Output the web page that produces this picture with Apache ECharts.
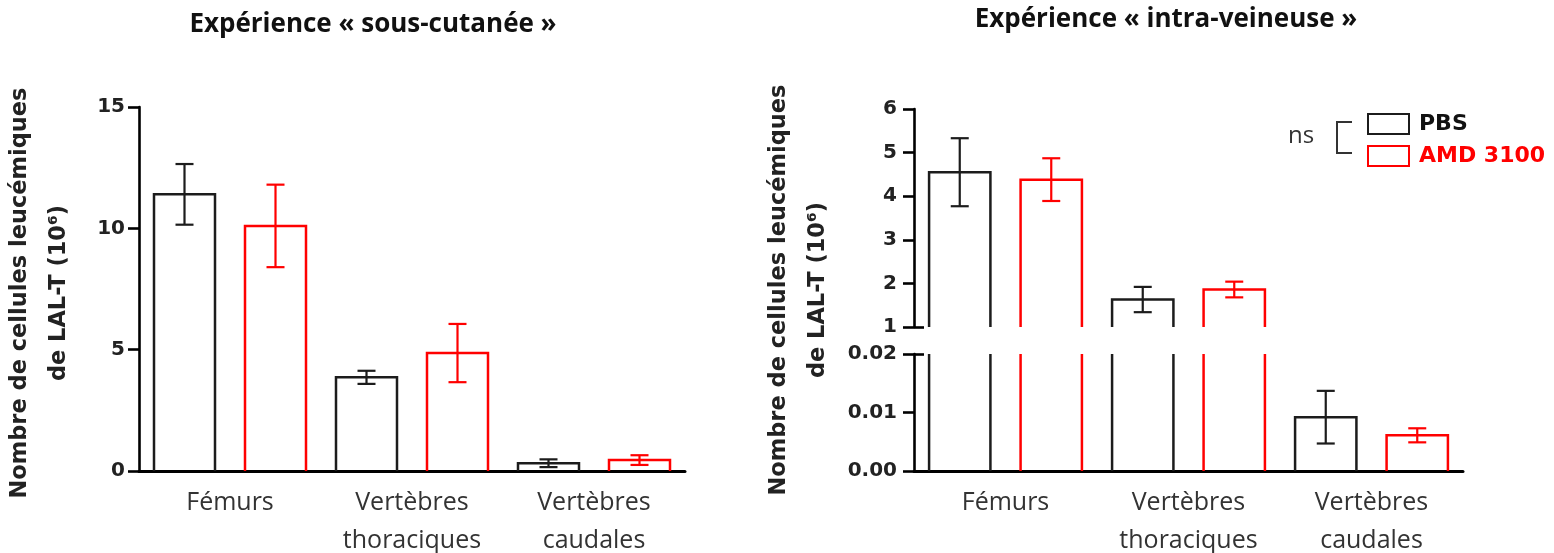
<!DOCTYPE html>
<html><head><meta charset="utf-8">
<script src="https://cdn.jsdelivr.net/npm/echarts@6/dist/echarts.min.js"></script>
<style>html,body{margin:0;padding:0;background:#fff}#c{width:1554px;height:553px}</style>
</head><body><div id="c"></div>
<script>
// ---- data ----
const categories = ['Fémurs', 'Vertèbres\nthoraciques', 'Vertèbres\ncaudales'];
const seriesNames = ['PBS', 'AMD 3100'];
const titles = ['Expérience « sous-cutanée »', 'Expérience « intra-veineuse »'];
const yName = 'Nombre de cellules leucémiques\nde LAL-T (10⁶)';
const sigLabel = 'ns';

const scPBS = [11.4, 3.86, 0.32];
const scPBSErr = [1.25, 0.27, 0.16];
const scAMD = [10.1, 4.86, 0.45];
const scAMDErr = [1.7, 1.2, 0.2];

const ivPBS = [4.55, 1.63, 0.0092];
const ivPBSErr = [0.78, 0.29, 0.0045];
const ivAMD = [4.38, 1.86, 0.0061];
const ivAMDErr = [0.49, 0.18, 0.0012];

const scTicks = [0, 5, 10, 15];
const ivTopTicks = [1, 2, 3, 4, 5, 6];
const ivBottomTicks = [0, 0.01, 0.02];

// ---- styles ----
const BLACK = '#1c1c1c';
const RED = '#ff0000';
const BAR_FRAC = 61 / 182;
const OFFSET_FRAC = 0.25;
const CAP = 9;

function rows(vals, errs) { return vals.map((v, i) => [i, v, errs[i]]); }

function makeRender(side, color) {
  return function (params, api) {
    const cat = api.value(0), val = api.value(1), err = api.value(2);
    const cs = params.coordSys;
    const band = api.size([1, 0])[0];
    const barW = band * BAR_FRAC;
    const cx = api.coord([cat, 0])[0] + side * band * OFFSET_FRAC;
    const x0 = cx - barW / 2, x1 = cx + barW / 2;
    const yb = cs.y + cs.height, yt = cs.y;
    const yv = api.coord([cat, val])[1];
    const bs = { stroke: color, lineWidth: 2.5, fill: 'none' };
    const children = [];
    if (yv < yb) {
      if (yv >= yt) {
        children.push({ type: 'polyline', shape: { points: [[x0, yb], [x0, yv], [x1, yv], [x1, yb]] }, style: bs });
      } else {
        children.push({ type: 'line', shape: { x1: x0, y1: yb, x2: x0, y2: yt }, style: bs });
        children.push({ type: 'line', shape: { x1: x1, y1: yb, x2: x1, y2: yt }, style: bs });
      }
    }
    if (yv >= yt && yv <= yb) {
      const yHi = api.coord([cat, val + err])[1];
      const yLo = api.coord([cat, val - err])[1];
      const es = { stroke: color, lineWidth: 2.2 };
      children.push({ type: 'line', shape: { x1: cx, y1: yLo, x2: cx, y2: yHi }, style: es });
      children.push({ type: 'line', shape: { x1: cx - CAP, y1: yHi, x2: cx + CAP, y2: yHi }, style: es });
      children.push({ type: 'line', shape: { x1: cx - CAP, y1: yLo, x2: cx + CAP, y2: yLo }, style: es });
    }
    return { type: 'group', children };
  };
}

function custom(name, xi, yi, data, side, color) {
  return { type: 'custom', name, xAxisIndex: xi, yAxisIndex: yi, data, clip: true,
    encode: { x: 0, y: 1 }, renderItem: makeRender(side, color), z: 3, silent: true };
}

const catLabel = { fontFamily: 'Open Sans', fontSize: 25, lineHeight: 38, color: '#333', margin: 13, interval: 0 };
const valLabel = { fontFamily: 'DejaVu Sans', fontWeight: 'bold', fontSize: 20, color: '#222' };

function xCat(grid, show) {
  return { type: 'category', gridIndex: grid, data: categories, show,
    axisLine: { show, lineStyle: { color: '#000', width: 3 } },
    axisTick: { show: false }, axisLabel: catLabel, splitLine: { show: false } };
}
function yVal(grid, ticks, fmt, margin) {
  return { type: 'value', gridIndex: grid, position: 'left',
    min: ticks[0], max: ticks[ticks.length - 1], interval: ticks[1] - ticks[0],
    axisLine: { show: true, lineStyle: { color: '#000', width: 2.6 } },
    axisTick: { show: true, length: 11, lineStyle: { color: '#000', width: 2.6 } },
    axisLabel: Object.assign({ margin, formatter: fmt }, valLabel),
    splitLine: { show: false } };
}
function yBreak(grid, ticks, at) {
  return { type: 'value', gridIndex: grid, position: 'left',
    min: ticks[0], max: ticks[ticks.length - 1], interval: ticks[1] - ticks[0],
    axisLine: { show: false }, axisLabel: { show: false }, splitLine: { show: false },
    axisTick: { show: true, inside: true, length: 10, customValues: [at], lineStyle: { color: '#000', width: 2.6 } } };
}

const chart = echarts.init(document.getElementById('c'), null, { renderer: 'canvas' });
const nameStyle = { fontFamily: 'DejaVu Sans', fontWeight: 'bold', fontSize: 22.5, lineHeight: 39, fill: '#222' };
const titleStyle = { fontFamily: 'Open Sans', fontWeight: 'bold', fontSize: 26, color: '#111' };

chart.setOption({
  animation: false,
  backgroundColor: '#fff',
  title: [
    { text: titles[0], left: 373, top: 12, textAlign: 'center', padding: 0, textStyle: titleStyle },
    { text: titles[1], left: 1166, top: 7, textAlign: 'center', padding: 0, textStyle: titleStyle }
  ],
  legend: {
    orient: 'vertical', left: 1367, top: 113, padding: 0, itemWidth: 41, itemHeight: 20, itemGap: 10,
    selectedMode: false, icon: 'rect',
    textStyle: { fontFamily: 'DejaVu Sans', fontWeight: 'bold', fontSize: 22, lineHeight: 20, padding: [0, 0, 0, 5] },
    data: [
      { name: seriesNames[0], icon: 'rect', itemStyle: { color: '#fff', borderColor: BLACK, borderWidth: 2 }, textStyle: { color: '#111' } },
      { name: seriesNames[1], icon: 'rect', itemStyle: { color: '#fff', borderColor: RED, borderWidth: 2 }, textStyle: { color: RED } }
    ]
  },
  grid: [
    { left: 139, top: 107, width: 546, height: 364, outerBoundsMode: 'none', containLabel: false },
    { left: 914, top: 109, width: 549, height: 218, outerBoundsMode: 'none', containLabel: false },
    { left: 914, top: 354, width: 549, height: 117, outerBoundsMode: 'none', containLabel: false }
  ],
  xAxis: [xCat(0, true), xCat(1, false), xCat(2, true)],
  yAxis: [
    yVal(0, scTicks, v => String(v), 14),
    yVal(1, ivTopTicks, v => String(v), 17),
    yVal(2, ivBottomTicks, v => v.toFixed(2), 17),
    yBreak(1, ivTopTicks, ivTopTicks[0]),
    yBreak(2, ivBottomTicks, ivBottomTicks[ivBottomTicks.length - 1])
  ],
  series: [
    custom(seriesNames[0], 0, 0, rows(scPBS, scPBSErr), -1, BLACK),
    custom(seriesNames[1], 0, 0, rows(scAMD, scAMDErr), 1, RED),
    custom(seriesNames[0], 1, 1, rows(ivPBS, ivPBSErr), -1, BLACK),
    custom(seriesNames[1], 1, 1, rows(ivAMD, ivAMDErr), 1, RED),
    custom(seriesNames[0], 2, 2, rows(ivPBS, ivPBSErr), -1, BLACK),
    custom(seriesNames[1], 2, 2, rows(ivAMD, ivAMDErr), 1, RED)
  ],
  graphic: [
    { type: 'text', x: 40, y: 293, rotation: Math.PI / 2,
      style: Object.assign({ text: yName, align: 'center', verticalAlign: 'middle', textAlign: 'center', textVerticalAlign: 'middle' }, nameStyle) },
    { type: 'text', x: 799, y: 290, rotation: Math.PI / 2,
      style: Object.assign({ text: yName, align: 'center', verticalAlign: 'middle', textAlign: 'center', textVerticalAlign: 'middle' }, nameStyle) },
    { type: 'text', x: 1301, y: 136,
      style: { text: sigLabel, fontFamily: 'Open Sans', fontSize: 24, fill: '#333', align: 'center', verticalAlign: 'middle', textAlign: 'center', textVerticalAlign: 'middle' } },
    { type: 'polyline', shape: { points: [[1352, 122], [1337, 122], [1337, 153], [1352, 153]] },
      style: { stroke: '#333', lineWidth: 2, fill: 'none' } }
  ]
});
</script></body></html>
